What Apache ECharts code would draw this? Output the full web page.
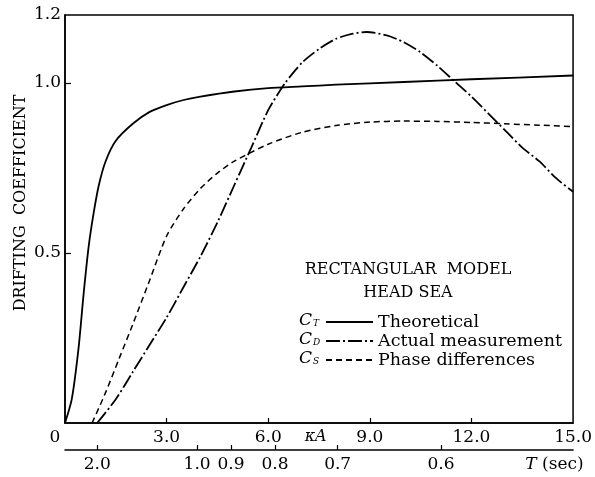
<!DOCTYPE html>
<html><head><meta charset="utf-8">
<script src="https://cdn.jsdelivr.net/npm/echarts@6/dist/echarts.min.js"></script>
<style>html,body{margin:0;padding:0;background:#fff}#c{width:595px;height:477px}</style>
</head><body><div id="c"></div>
<script>
// C_T theoretical
const ctX = [0, 0.2, 0.4, 0.55, 0.7, 0.85, 1.0, 1.2, 1.5, 2.0, 2.5, 3.0, 3.5, 4.0, 5.0, 6.0, 7.0, 8.0, 10.0, 12.0, 15.0];
const ctY = [0, 0.07, 0.22, 0.38, 0.52, 0.62, 0.70, 0.77, 0.83, 0.88, 0.915, 0.935, 0.95, 0.96, 0.975, 0.985, 0.99, 0.995, 1.003, 1.011, 1.022];
// C_D actual measurement
const cdX = [0.95, 1.5, 2.0, 2.5, 3.0, 3.5, 4.0, 4.5, 5.0, 5.5, 6.0, 6.5, 7.0, 7.5, 8.0, 8.5, 8.9, 9.5, 10.0, 10.5, 11.0, 11.5, 12.0, 12.5, 13.0, 13.5, 14.0, 14.5, 15.0];
const cdY = [0, 0.07, 0.15, 0.23, 0.31, 0.40, 0.49, 0.59, 0.70, 0.81, 0.92, 1.0, 1.06, 1.10, 1.13, 1.145, 1.15, 1.14, 1.12, 1.09, 1.05, 1.005, 0.96, 0.91, 0.86, 0.81, 0.77, 0.72, 0.68];
// C_S phase differences
const csX = [0.8, 1.2, 1.6, 2.0, 2.5, 3.0, 3.5, 4.0, 4.5, 5.0, 6.0, 7.0, 8.0, 9.0, 10.0, 11.0, 12.0, 13.0, 14.0, 15.0];
const csY = [0, 0.09, 0.19, 0.29, 0.42, 0.55, 0.63, 0.69, 0.735, 0.77, 0.82, 0.855, 0.875, 0.885, 0.888, 0.887, 0.884, 0.88, 0.876, 0.872];

const seriesNames = ['Theoretical', 'Actual measurement', 'Phase differences'];
const seriesSymbols = ['T', 'D', 'S'];

// kappa*A axis
const kaTicks = [3, 6, 9, 12];
const kaLabelVals = [0, 3, 6, 7.4, 9, 12, 15];
const kaLabelText = ['0', '3.0', '6.0', '{k|κA}', '9.0', '12.0', '15.0'];
// T (sec) axis: label text and position on kappa*A scale
const tLabelText = ['2.0', '1.0', '0.9', '0.8', '0.7', '0.6'];
const tPos = [0.95, 3.9, 4.9, 6.2, 8.05, 11.1];
const tNamePos = 14.45;
// y axis
const yTicks = [0.5, 1.0];
const yLabelVals = [0.5, 1.0, 1.2];

const zip = (xs, ys) => xs.map((x, i) => [x, ys[i]]);
const FONT = 'DejaVu Serif';
const near = (arr, v) => arr.findIndex(a => Math.abs(a - v) < 1e-6);

const chart = echarts.init(document.getElementById('c'), null, {renderer: 'canvas'});
const lineBase = {type: 'line', showSymbol: false, symbol: 'none', smooth: 0.25, silent: true};
chart.setOption({
  animation: false,
  backgroundColor: '#fff',
  grid: {left: 65, right: 14, top: 15, bottom: 54, show: true, borderColor: '#000', borderWidth: 1.5},
  xAxis: [{
    type: 'value', min: 0, max: 15, position: 'bottom',
    axisLine: {lineStyle: {color: '#000', width: 1.5}},
    axisTick: {inside: true, length: 5, customValues: kaTicks, lineStyle: {color: '#000', width: 1.2}},
    axisLabel: {customValues: kaLabelVals, margin: 6, color: '#000', fontFamily: FONT, fontSize: 17,
      formatter: v => { const i = near(kaLabelVals, v); return i === 0 ? '{o|0}' : kaLabelText[i]; },
      rich: {o: {fontFamily: FONT, fontSize: 17, color: '#000', padding: [0, 20, 0, 0]},
             k: {fontFamily: FONT, fontStyle: 'italic', fontSize: 16, color: '#000'}}},
    splitLine: {show: false}
  }, {
    type: 'value', min: 0, max: 15, position: 'bottom', offset: 27,
    axisLine: {lineStyle: {color: '#000', width: 1.5}},
    axisTick: {inside: true, length: 5, customValues: tPos, lineStyle: {color: '#000', width: 1.2}},
    axisLabel: {customValues: tPos.concat([tNamePos]), margin: 6, color: '#000', fontFamily: FONT, fontSize: 17,
      formatter: v => { const i = near(tPos, v); return i >= 0 ? tLabelText[i] : '{i|T} (sec)'; },
      rich: {i: {fontFamily: FONT, fontStyle: 'italic', fontSize: 17, color: '#000'}}},
    splitLine: {show: false}
  }],
  yAxis: {
    type: 'value', min: 0, max: 1.2,
    axisLine: {show: true, lineStyle: {color: '#000', width: 1.5}},
    axisTick: {show: true, inside: true, length: 6, customValues: yTicks, lineStyle: {color: '#000', width: 1.2}},
    axisLabel: {customValues: yLabelVals, margin: 4, color: '#000', fontFamily: FONT, fontSize: 17,
      formatter: v => v.toFixed(1)},
    splitLine: {show: false},
    name: 'DRIFTING  COEFFICIENT', nameLocation: 'middle', nameGap: 36, nameRotate: 90, nameMoveOverlap: false,
    nameTextStyle: {color: '#000', fontFamily: FONT, fontSize: 16, padding: [0, 0, 0, 32]}
  },
  legend: {
    orient: 'vertical', left: 325, top: 313, itemWidth: 47, itemHeight: 14, itemGap: 1,
    selectedMode: false, padding: 0,
    itemStyle: {opacity: 0},
    textStyle: {color: '#000', fontFamily: FONT, fontSize: 17.5, lineHeight: 18},
    data: seriesNames
  },
  graphic: [
    {type: 'text', x: 408, y: 258, style: {text: 'RECTANGULAR  MODEL\nHEAD SEA', textAlign: 'center', fill: '#000', fontFamily: FONT, fontSize: 16, lineHeight: 23}}
  ].concat(seriesSymbols.map((s, i) => ({
    type: 'text', x: 299, y: 312 + i * 19,
    style: {text: '{c|C}{s|' + s + '}', rich: {
      c: {fontFamily: FONT, fontStyle: 'italic', fontSize: 17, fill: '#000'},
      s: {fontFamily: FONT, fontStyle: 'italic', fontSize: 9, fill: '#000', padding: [7, 0, 0, 1]}
    }}
  }))),
  series: [
    Object.assign({}, lineBase, {name: seriesNames[0], data: zip(ctX, ctY), lineStyle: {color: '#000', width: 1.8, type: 'solid'}, itemStyle: {color: '#000', opacity: 0}}),
    Object.assign({}, lineBase, {name: seriesNames[1], data: zip(cdX, cdY), lineStyle: {color: '#000', width: 1.8, type: [14, 3, 2, 3]}, itemStyle: {color: '#000', opacity: 0}}),
    Object.assign({}, lineBase, {name: seriesNames[2], data: zip(csX, csY), lineStyle: {color: '#000', width: 1.5, type: [6, 4]}, itemStyle: {color: '#000', opacity: 0}})
  ]
});
</script></body></html>
